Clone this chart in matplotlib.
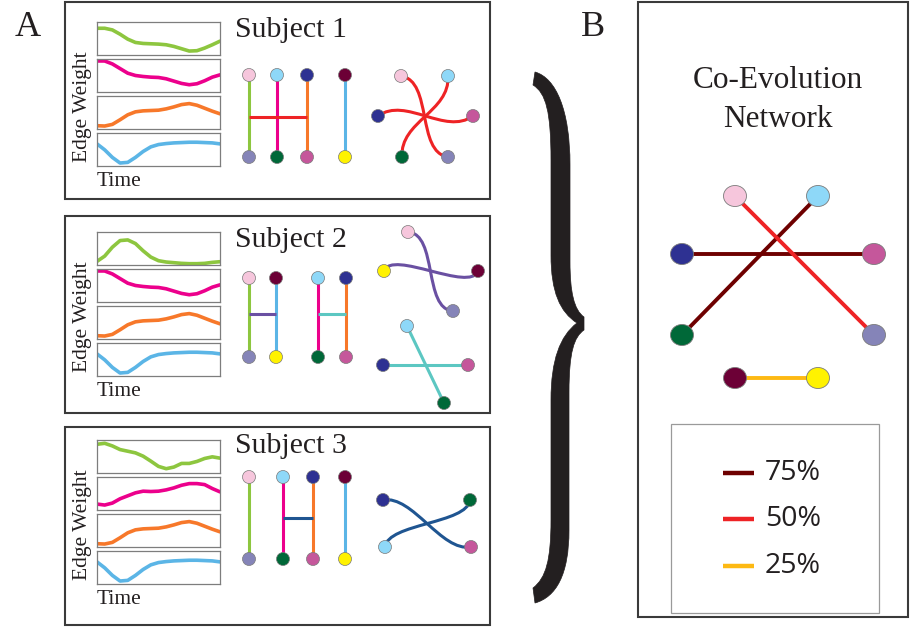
import matplotlib
matplotlib.use("Agg")
import matplotlib.pyplot as plt
from matplotlib.patches import Rectangle, Circle, Ellipse, PathPatch
from matplotlib.path import Path

W, H = 911, 627
SERIF = ["Liberation Serif", "DejaVu Serif"]
SANS = ["Open Sans", "DejaVu Sans"]
INK = "#231F20"

# ---------------------------------------------------------------------------
# Edge-weight time courses (0 = bottom of box, 1 = top of box), 17 samples
# ---------------------------------------------------------------------------
s1_green = [0.81, 0.81, 0.76, 0.63, 0.48, 0.38, 0.35, 0.34, 0.33, 0.31, 0.26,
            0.19, 0.12, 0.13, 0.21, 0.31, 0.42]
s2_green = [0.11, 0.27, 0.54, 0.74, 0.76, 0.65, 0.43, 0.24, 0.13, 0.09, 0.07,
            0.05, 0.04, 0.04, 0.05, 0.08, 0.10]
s3_green = [0.87, 0.90, 0.82, 0.71, 0.66, 0.61, 0.51, 0.36, 0.20, 0.13, 0.18,
            0.29, 0.29, 0.35, 0.44, 0.49, 0.45]
s12_magenta = [0.94, 0.94, 0.85, 0.71, 0.57, 0.50, 0.47, 0.45, 0.44, 0.40, 0.33,
               0.26, 0.22, 0.25, 0.34, 0.45, 0.52]
s3_magenta = [0.18, 0.15, 0.21, 0.34, 0.43, 0.52, 0.57, 0.56, 0.57, 0.61, 0.67,
              0.75, 0.80, 0.80, 0.77, 0.65, 0.55]
shared_orange = [0.10, 0.09, 0.14, 0.28, 0.43, 0.52, 0.55, 0.56, 0.57, 0.61, 0.67,
                 0.74, 0.77, 0.72, 0.63, 0.54, 0.46]
shared_blue = [0.67, 0.49, 0.26, 0.09, 0.11, 0.26, 0.44, 0.58, 0.65, 0.68, 0.70,
               0.71, 0.72, 0.72, 0.71, 0.70, 0.67]

subject_names = ["Subject 1", "Subject 2", "Subject 3"]
subject_series = [
    [s1_green, s12_magenta, shared_orange, shared_blue],
    [s2_green, s12_magenta, shared_orange, shared_blue],
    [s3_green, s3_magenta, shared_orange, shared_blue],
]
series_colors = ["#8DC63F", "#EC008C", "#F7782A", "#5BB5E6"]

# brain regions (graph nodes) and their colours
node_colors = {
    "pink": "#F6C6DC", "sky": "#8ED8F8", "navy": "#2E3192", "orchid": "#C5579B",
    "green": "#006838", "lavender": "#8584B8", "maroon": "#6C0036",
    "yellow": "#FFF200",
}

# co-evolution network: edge -> percentage of subjects
coevo_edges = [("sky", "green", 75), ("navy", "orchid", 75),
               ("pink", "lavender", 50), ("maroon", "yellow", 25)]
weight_levels = [75, 50, 25]
weight_colors = {75: "#6E0000", 50: "#EE2325", 25: "#FDB913"}

# ---------------------------------------------------------------------------
fig = plt.figure(figsize=(W / 100, H / 100), dpi=100)
ax = fig.add_axes([0, 0, 1, 1])
ax.set_xlim(0, W)
ax.set_ylim(H, 0)
ax.axis("off")


def box(x0, y0, x1, y1, lw=1.5, ec="#3A3A3A"):
    ax.add_patch(Rectangle((x0, y0), x1 - x0, y1 - y0, fill=False, ec=ec,
                           lw=lw, zorder=1))


def node(name, xy, r=6.5, z=5):
    ax.add_patch(Circle(xy, r, fc=node_colors[name], ec="#7A7A7A", lw=0.5,
                        zorder=z))


def straight(p, q, color, lw=2.2, z=3):
    ax.plot([p[0], q[0]], [p[1], q[1]], color=color, lw=lw,
            solid_capstyle="butt", zorder=z)


def s_curve(p, q, v, color, lw=2.2, z=3):
    c1 = (p[0] + v[0], p[1] + v[1])
    c2 = (q[0] - v[0], q[1] - v[1])
    path = Path([p, c1, c2, q], [Path.MOVETO, Path.CURVE4, Path.CURVE4,
                                 Path.CURVE4])
    ax.add_patch(PathPatch(path, fc="none", ec=color, lw=lw, zorder=z))


# ---------------------------------------------------------------------------
# Panel A: three subjects
# ---------------------------------------------------------------------------
panel_tops = [2, 216, 427]
panel_bottoms = [199, 413, 625]
series_tops = [22, 232, 440]
title_base = [37, 247, 453]

for k in range(3):
    box(65, panel_tops[k], 490, panel_bottoms[k])
    T = series_tops[k]
    for i, vals in enumerate(subject_series[k]):
        y0 = T + 37 * i
        sub = fig.add_axes([97 / W, 1 - (y0 + 33) / H, 123 / W, 33 / H])
        sub.plot(range(len(vals)), vals, color=series_colors[i], lw=2.6,
                 solid_capstyle="round")
        sub.set_xlim(0, len(vals) - 1)
        sub.set_ylim(0, 1)
        sub.set_xticks([])
        sub.set_yticks([])
        for sp in sub.spines.values():
            sp.set_color("#7D7D7D")
            sp.set_linewidth(0.9)
    ax.text(82, T + 85, "Edge Weight", rotation=90, ha="center", va="center",
            fontsize=15.5, family=SERIF, color=INK)
    ax.text(97, T + 160, "Time", ha="left", va="center", fontsize=15.5,
            family=SERIF, color=INK)
    ax.text(235, title_base[k], subject_names[k], ha="left", va="baseline",
            fontsize=21.5, family=SERIF, color=INK)

# --- Subject 1 ---
top_y, bot_y = 75, 157
cols = [("pink", "lavender", 249), ("sky", "green", 277),
        ("navy", "orchid", 307), ("maroon", "yellow", 345)]
for i, (a, b, x) in enumerate(cols):
    straight((x, top_y), (x, bot_y), series_colors[i])
    node(a, (x, top_y))
    node(b, (x, bot_y))
straight((249, 117), (307, 117), "#EE2325")

pos1 = {"pink": (401, 76), "sky": (448, 76), "navy": (378, 116),
        "orchid": (473, 116), "green": (402, 157), "lavender": (448, 157)}
s_curve(pos1["pink"], pos1["lavender"], (32, 5), "#EE2325")
s_curve(pos1["sky"], pos1["green"], (2, 36), "#EE2325")
s_curve(pos1["navy"], pos1["orchid"], (28, -20), "#EE2325")
for n, p in pos1.items():
    node(n, p)

# --- Subject 2 ---
top_y, bot_y = 278, 357
cols = [("pink", "lavender", 249, 0), ("maroon", "yellow", 276, 3),
        ("sky", "green", 318, 1), ("navy", "orchid", 346, 2)]
for a, b, x, ci in cols:
    straight((x, top_y), (x, bot_y), series_colors[ci])
    node(a, (x, top_y))
    node(b, (x, bot_y))
straight((249, 314), (276, 314), "#6A50A2")
straight((318, 314), (346, 314), "#5CC7C2")

pos2a = {"pink": (408, 232), "yellow": (384, 271), "maroon": (478, 271),
         "lavender": (453, 311)}
s_curve(pos2a["pink"], pos2a["lavender"], (30, 2), "#6A50A2")
s_curve(pos2a["yellow"], pos2a["maroon"], (8, -22), "#6A50A2")
for n, p in pos2a.items():
    node(n, p)
pos2b = {"sky": (407, 326), "navy": (383, 365), "orchid": (468, 365),
         "green": (444, 403)}
straight(pos2b["sky"], pos2b["green"], "#5CC7C2")
straight(pos2b["navy"], pos2b["orchid"], "#5CC7C2")
for n, p in pos2b.items():
    node(n, p)

# --- Subject 3 ---
top_y, bot_y = 477, 559
cols = [("pink", "lavender", 249), ("sky", "green", 283),
        ("navy", "orchid", 313), ("maroon", "yellow", 345)]
for i, (a, b, x) in enumerate(cols):
    straight((x, top_y), (x, bot_y), series_colors[i])
    node(a, (x, top_y))
    node(b, (x, bot_y))
straight((283, 518), (313, 518), "#1F5591")

pos3 = {"navy": (383, 500), "green": (470, 500), "sky": (385, 547),
        "orchid": (471, 547)}
s_curve(pos3["navy"], pos3["orchid"], (30, -5), "#1F5591")
s_curve(pos3["sky"], pos3["green"], (3, -24), "#1F5591")
for n, p in pos3.items():
    node(n, p)

# ---------------------------------------------------------------------------
# Curly brace joining the subjects
# ---------------------------------------------------------------------------
M, C, L = Path.MOVETO, Path.CURVE4, Path.LINETO
brace_pts = [
    (535, 72),
    (556, 78), (570, 110), (570, 165),
    (570, 262),
    (570, 292), (574, 310), (584, 317),
    (584, 330),
    (574, 337), (569, 352), (569, 392),
    (569, 530),
    (569, 575), (556, 597), (535, 603),
    (533, 588),
    (546, 578), (551, 560), (551, 520),
    (551, 400),
    (551, 360), (560, 336), (577, 323),
    (560, 312), (551, 292), (551, 255),
    (551, 160),
    (551, 112), (546, 93), (533, 85),
    (535, 72),
]
brace_codes = [M, C, C, C, L, C, C, C, L, C, C, C, L, C, C, C, L, C, C, C, L,
               C, C, C, C, C, C, L, C, C, C, Path.CLOSEPOLY]
ax.add_patch(PathPatch(Path(brace_pts, brace_codes), fc=INK, ec=INK, lw=0.5,
                       zorder=2))

# ---------------------------------------------------------------------------
# Panel B: co-evolution network
# ---------------------------------------------------------------------------
box(638, 2, 908, 617)
ax.text(778, 88, "Co-Evolution", ha="center", va="baseline", fontsize=22.5,
        family=SERIF, color=INK)
ax.text(778, 127, "Network", ha="center", va="baseline", fontsize=22.5,
        family=SERIF, color=INK)

posB = {"pink": (735, 196), "sky": (818, 196), "navy": (682, 254),
        "orchid": (874, 254), "green": (682, 335), "lavender": (874, 335),
        "maroon": (735, 378), "yellow": (818, 378)}
for a, b, w in coevo_edges:
    straight(posB[a], posB[b], weight_colors[w], lw=2.8)
for n, p in posB.items():
    ax.add_patch(Ellipse(p, 23, 21, fc=node_colors[n], ec="#7A7A7A", lw=0.6,
                         zorder=5))

# legend
box(671, 424, 879, 613, lw=0.9, ec="#9A9A9A")
legend_y = [473, 519, 566]
for y, w in zip(legend_y, weight_levels):
    ax.plot([723, 754], [y, y], color=weight_colors[w], lw=3.2,
            solid_capstyle="butt")
    ax.text(765, y, f"{w}%", ha="left", va="center", fontsize=20.5,
            family=SANS, color=INK)

# panel letters
ax.text(28, 27, "A", ha="center", va="center", fontsize=26, family=SERIF,
        color=INK)
ax.text(593, 27, "B", ha="center", va="center", fontsize=26, family=SERIF,
        color=INK)

fig.savefig("out.png", dpi=100)
